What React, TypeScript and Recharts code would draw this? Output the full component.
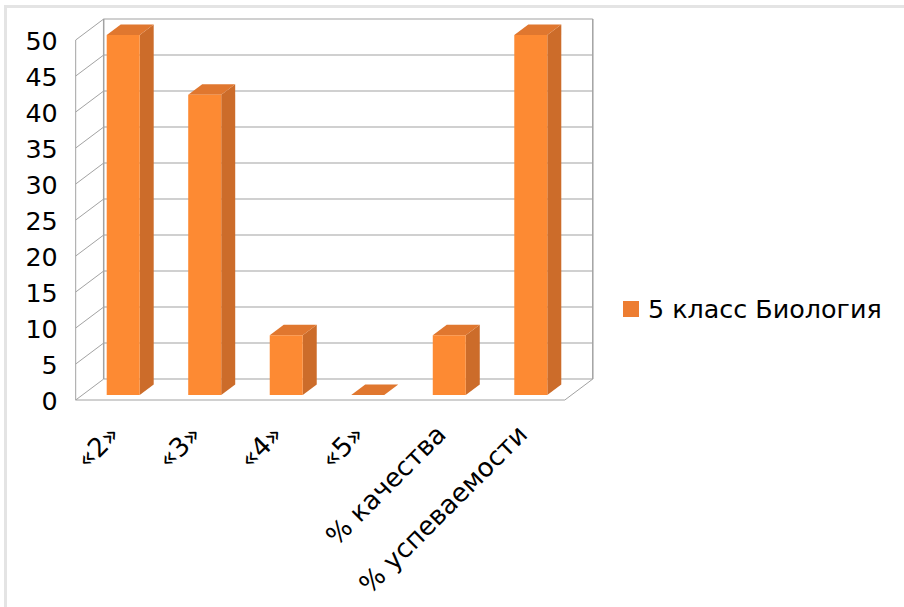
import React from "react";
import { BarChart, Bar, XAxis, YAxis, CartesianGrid, Legend } from "recharts";

const categories = ["«2»", "«3»", "«4»", "«5»", "% качества", "% успеваемости"];
const seriesName = "5 класс Биология";
const seriesValues = [50, 41.7, 8.3, 0, 8.3, 50];
const yTicks = [0, 5, 10, 15, 20, 25, 30, 35, 40, 45, 50];
const data = categories.map((name, i) => ({ name, value: seriesValues[i] }));

const W = 904, H = 607;
const TOP = 35, BOTTOM = 395, LEFT = 82.7, RIGHT = 571.8;
const FONT = "'DejaVu Sans', sans-serif";
const GRID = "#a2a2a2";
// wall depth relative to the bar plane
const BACK_DX = 21, BACK_DY = -16, FRONT_DX = -7, FRONT_DY = 5;
const BAR_DX = 14, BAR_DY = -10.5;

function GridLine(props: any) {
  const y = props.y1;
  const x0 = LEFT + FRONT_DX, x1 = LEFT + BACK_DX, x2 = RIGHT + BACK_DX, x3 = RIGHT + FRONT_DX;
  const isFloor = Math.abs(y - BOTTOM) < 0.5;
  const isTop = Math.abs(y - TOP) < 0.5;
  return (
    <g>
      <line x1={x1} y1={y + BACK_DY} x2={x2} y2={y + BACK_DY} stroke={GRID} strokeWidth={1.2} />
      <line x1={x0} y1={y + FRONT_DY} x2={x1} y2={y + BACK_DY} stroke={GRID} strokeWidth={1} />
      {isFloor && (
        <g>
          <line x1={x0} y1={y + FRONT_DY} x2={x3} y2={y + FRONT_DY} stroke={GRID} strokeWidth={1} />
          <line x1={x3} y1={y + FRONT_DY} x2={x2} y2={y + BACK_DY} stroke={GRID} strokeWidth={1} />
        </g>
      )}
      {isTop && (
        <g>
          <line x1={x0} y1={TOP + FRONT_DY} x2={x0} y2={BOTTOM + FRONT_DY} stroke={GRID} strokeWidth={1} />
          <line x1={x1} y1={TOP + BACK_DY} x2={x1} y2={BOTTOM + BACK_DY} stroke={GRID} strokeWidth={1.5} />
          <line x1={x2} y1={TOP + BACK_DY} x2={x2} y2={BOTTOM + BACK_DY} stroke={GRID} strokeWidth={1.5} />
        </g>
      )}
    </g>
  );
}

function Bar3D(props: any) {
  const { x, y, width, height } = props;
  const r = x + width, b = y + height;
  return (
    <g>
      <polygon points={`${r},${y} ${r + BAR_DX},${y + BAR_DY} ${r + BAR_DX},${b + BAR_DY} ${r},${b}`} fill="#cc6c2a" />
      <polygon points={`${x},${y} ${x + BAR_DX},${y + BAR_DY} ${r + BAR_DX},${y + BAR_DY} ${r},${y}`} fill="#e0772f" />
      <rect x={x} y={y} width={width} height={height} fill="#fd8a33" />
    </g>
  );
}

function XTick(props: any) {
  const { x, y, payload } = props;
  const px = x - 2, py = y + 33;
  return (
    <text
      x={px}
      y={py}
      transform={`rotate(-45 ${px} ${py})`}
      textAnchor="end"
      fontFamily={FONT}
      fontSize={26}
      fill="#000"
    >
      {payload.value}
    </text>
  );
}

function LegendBox(props: any) {
  return (
    <div>
      {(props.payload || []).map((p: any) => (
        <div key={p.value} style={{ display: "flex", alignItems: "center", fontFamily: FONT, fontSize: 25.4, color: "#000", whiteSpace: "nowrap" }}>
          <span style={{ display: "inline-block", width: 16, height: 16, background: p.color, marginRight: 9 }} />
          {p.value}
        </div>
      ))}
    </div>
  );
}

export default function App() {
  return (
    <div style={{ position: "absolute", left: 0, top: 0, width: W, height: H, overflow: "hidden", background: "#fff" }}>
      <div style={{ position: "absolute", left: 4, top: 5, width: W, height: H, border: "3px solid #e4e4e4", boxSizing: "border-box" }} />
      <BarChart
        width={W}
        height={H}
        data={data}
        margin={{ top: TOP, right: W - RIGHT, bottom: 0, left: 0 }}
        style={{ position: "absolute", left: 0, top: 0 }}
      >
        <CartesianGrid vertical={false} horizontal={(p: any) => <GridLine key={p.key ?? p.index} {...p} />} />
        <XAxis dataKey="name" axisLine={false} tickLine={false} height={H - BOTTOM} interval={0} tick={<XTick />} />
        <YAxis
          domain={[0, 50]}
          ticks={yTicks}
          width={LEFT}
          axisLine={false}
          tickLine={false}
          interval={0}
          tick={{ fontFamily: FONT, fontSize: 25.4, fill: "#000", dx: -17, dy: 6 }}
        />
        <Bar dataKey="value" name={seriesName} fill="#ed7d31" barSize={33} isAnimationActive={false} shape={<Bar3D />} />
        <Legend
          layout="vertical"
          align="center"
          verticalAlign="middle"
          content={<LegendBox />}
          wrapperStyle={{ left: 623, top: 294, width: "auto" }}
        />
      </BarChart>
    </div>
  );
}
